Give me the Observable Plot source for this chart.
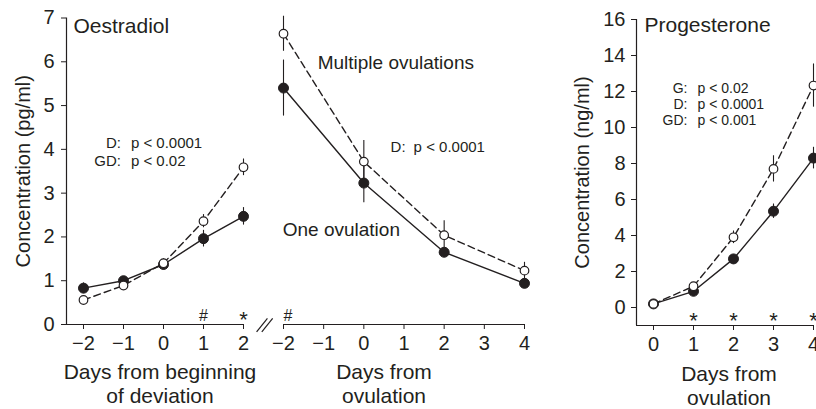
<!DOCTYPE html>
<html><head><meta charset="utf-8">
<script src="https://cdn.jsdelivr.net/npm/d3@7"></script>
<script src="https://cdn.jsdelivr.net/npm/@observablehq/plot@0.6"></script>
<style>
body{margin:0;background:#fff;}
#chart{position:relative;width:816px;height:409px;overflow:hidden;background:#fff;}
#chart svg{position:absolute;left:0;top:0;}
</style></head><body><div id="chart"></div>
<script>
// ---- Oestradiol, days from beginning of deviation ----
const daysDev = [-2, -1, 0, 1, 2];
const e2DevOne = [0.83, 1.00, 1.37, 1.96, 2.47];
const e2DevOneSE = [0.12, 0.08, 0.12, 0.19, 0.20];
const e2DevMulti = [0.56, 0.89, 1.40, 2.36, 3.59];
const e2DevMultiSE = [0.05, 0.06, 0.10, 0.15, 0.19];
// ---- Oestradiol, days from ovulation ----
const daysOvE2 = [-2, 0, 2, 4];
const e2OvOne = [5.40, 3.23, 1.65, 0.94];
const e2OvOneSE = [0.64, 0.45, 0.08, 0.12];
const e2OvMulti = [6.64, 3.72, 2.04, 1.23];
const e2OvMultiSE = [0.40, 0.48, 0.33, 0.19];
// ---- Progesterone, days from ovulation ----
const daysOvP4 = [0, 1, 2, 3, 4];
const p4One = [0.20, 0.90, 2.70, 5.35, 8.30];
const p4OneSE = [0.10, 0.10, 0.15, 0.40, 0.60];
const p4Multi = [0.20, 1.18, 3.90, 7.70, 12.33];
const p4MultiSE = [0.10, 0.15, 0.35, 0.73, 1.20];
// ---- ticks ----
const e2Ticks = [0, 1, 2, 3, 4, 5, 6, 7];
const p4Ticks = [0, 2, 4, 6, 8, 10, 12, 14, 16];
const devTicks = [-2, -1, 0, 1, 2];
const ovE2Ticks = [-2, -1, 0, 1, 2, 3, 4];
const ovP4Ticks = [0, 1, 2, 3, 4];
// ---- labels ----
const yLabelE2 = "Concentration (pg/ml)";
const yLabelP4 = "Concentration (ng/ml)";
const xLabelDev = "Days from beginning\nof deviation";
const xLabelOv = "Days from\novulation";
const titleE2 = [{x: -2.25, y: 6.80, text: "Oestradiol"}];
const titleP4 = [{x: -0.225, y: 15.67, text: "Progesterone"}];
const seriesLabels = [
  {x: -1.15, y: 5.97, text: "Multiple ovulations"},
  {x: -2.02, y: 2.17, text: "One ovulation"}
];
const statsDev = [{x: -0.94, y: 4.13, g: "D:", p: "p < 0.0001"}, {x: -0.94, y: 3.74, g: "GD:", p: "p < 0.02"}];
const statsOv = [{x: 1.14, y: 4.05, g: "D:", p: "p < 0.0001"}];
const statsP4 = [
  {x: 0.975, y: 12.15, g: "G:", p: "p < 0.02"},
  {x: 0.975, y: 11.26, g: "D:", p: "p < 0.0001"},
  {x: 0.975, y: 10.37, g: "GD:", p: "p < 0.001"}
];
const sigDev = [{x: 1, y: 0.2, s: "#"}, {x: 2, y: 0.2, s: "*"}];
const sigOv = [{x: -2, y: 0.2, s: "#"}];
const sigP4 = [{x: 1, y: -0.5, s: "*"}, {x: 2, y: -0.5, s: "*"}, {x: 3, y: -0.5, s: "*"}, {x: 4, y: -0.5, s: "*"}];
const axisBreak = [
  {x1: -2.67, y1: -0.17, x2: -2.40, y2: 0.14},
  {x1: -2.54, y1: -0.17, x2: -2.27, y2: 0.14}
];

const ink = "#231f20";
const font = "'Liberation Sans', Arial, Helvetica, sans-serif";
const fmt = d3.format("d");
const rows = (xs, ys, ses) => xs.map((x, i) => ({x, y: ys[i], se: ses[i]}));

function seriesMarks(one, multi) {
  return [
    Plot.ruleX(one, {x: "x", y1: d => d.y - d.se, y2: d => d.y + d.se, stroke: ink, strokeWidth: 1.1}),
    Plot.ruleX(multi, {x: "x", y1: d => d.y - d.se, y2: d => d.y + d.se, stroke: ink, strokeWidth: 1.1}),
    Plot.line(one, {x: "x", y: "y", stroke: ink, strokeWidth: 1.4}),
    Plot.line(multi, {x: "x", y: "y", stroke: ink, strokeWidth: 1.4, strokeDasharray: "7,4"}),
    Plot.dot(one, {x: "x", y: "y", r: 5, fill: ink, stroke: ink, strokeWidth: 1}),
    Plot.dot(multi, {x: "x", y: "y", r: 4.3, fill: "white", stroke: ink, strokeWidth: 1.2})
  ];
}
function statMarks(stats, gap, size) {
  return [
    Plot.text(stats, {x: "x", y: "y", text: "g", textAnchor: "end", dx: -gap, fontSize: size, fill: ink}),
    Plot.text(stats, {x: "x", y: "y", text: "p", textAnchor: "start", dx: gap, fontSize: size, fill: ink})
  ];
}
function base(opts) {
  return Object.assign({
    width: 816, height: 409,
    style: {fontFamily: font, fontSize: "20px", color: ink, background: "none", overflow: "visible"}
  }, opts);
}

const chart = document.getElementById("chart");

// Left panel
chart.append(Plot.plot(base({
  marginLeft: 66, marginRight: 573, marginTop: 17.5, marginBottom: 85,
  x: {domain: [-2.425, 2], label: null},
  y: {domain: [0, 7], label: null},
  marks: [
    Plot.ruleX([-2.425], {stroke: ink, strokeWidth: 1.2}),
    Plot.ruleY([0], {stroke: ink, strokeWidth: 1.2}),
    Plot.axisY({ticks: e2Ticks, tickFormat: fmt, tickSize: 5, tickPadding: 7, fontSize: 20, label: null}),
    Plot.axisX({ticks: devTicks, tickFormat: fmt, tickSize: 5, tickPadding: 6, fontSize: 20, label: null}),
    Plot.text([yLabelE2], {frameAnchor: "left", textAnchor: "middle", dx: -43, rotate: -90, fontSize: 20, fill: ink}),
    Plot.text([xLabelDev], {frameAnchor: "bottom", textAnchor: "middle", dx: 5, dy: 38, lineAnchor: "top", lineHeight: 1.13, fontSize: 21, fill: ink}),
    Plot.text(titleE2, {x: "x", y: "y", text: "text", textAnchor: "start", fontSize: 21, fill: ink}),
    ...statMarks(statsDev, 5, 15),
    Plot.text(sigDev.filter(d => d.s === "#"), {x: "x", y: "y", text: "s", fontSize: 16, fill: ink}),
    Plot.text(sigDev.filter(d => d.s === "*"), {x: "x", y: "y", text: "s", fontSize: 22, dy: 4, fill: ink}),
    ...seriesMarks(rows(daysDev, e2DevOne, e2DevOneSE), rows(daysDev, e2DevMulti, e2DevMultiSE))
  ]
})));

// Middle panel
chart.append(Plot.plot(base({
  marginLeft: 283, marginRight: 292, marginTop: 17.5, marginBottom: 85,
  x: {domain: [-2, 4], label: null},
  y: {domain: [0, 7], label: null, axis: null},
  marks: [
    Plot.ruleY([0], {stroke: ink, strokeWidth: 1.2}),
    Plot.axisX({ticks: ovE2Ticks, tickFormat: fmt, tickSize: 5, tickPadding: 6, fontSize: 20, label: null}),
    Plot.text([xLabelOv], {frameAnchor: "bottom", textAnchor: "middle", dx: -20, dy: 38, lineAnchor: "top", lineHeight: 1.13, fontSize: 21, fill: ink}),
    Plot.link(axisBreak, {x1: "x1", y1: "y1", x2: "x2", y2: "y2", stroke: ink, strokeWidth: 1.2}),
    Plot.text(seriesLabels, {x: "x", y: "y", text: "text", textAnchor: "start", fontSize: 19, fill: ink}),
    ...statMarks(statsOv, 4, 15),
    Plot.text(sigOv, {x: "x", y: "y", text: "s", textAnchor: "start", dx: 0, fontSize: 16, fill: ink}),
    ...seriesMarks(rows(daysOvE2, e2OvOne, e2OvOneSE), rows(daysOvE2, e2OvMulti, e2OvMultiSE))
  ]
})));

// Right panel
chart.append(Plot.plot(base({
  marginLeft: 636, marginRight: 3, marginTop: 19, marginBottom: 84,
  x: {domain: [-0.425, 4], label: null},
  y: {domain: [-1, 16], label: null},
  marks: [
    Plot.ruleX([-0.425], {stroke: ink, strokeWidth: 1.2}),
    Plot.ruleY([-1], {stroke: ink, strokeWidth: 1.2}),
    Plot.axisY({ticks: p4Ticks, tickFormat: fmt, tickSize: 5, tickPadding: 6, fontSize: 20, label: null}),
    Plot.axisX({ticks: ovP4Ticks, tickFormat: fmt, tickSize: 5, tickPadding: 6, fontSize: 20, label: null}),
    Plot.text([yLabelP4], {frameAnchor: "left", textAnchor: "middle", dx: -54, rotate: -90, fontSize: 20, fill: ink}),
    Plot.text([xLabelOv], {frameAnchor: "bottom", textAnchor: "middle", dx: 4, dy: 39, lineAnchor: "top", lineHeight: 1.13, fontSize: 21, fill: ink}),
    Plot.text(titleP4, {x: "x", y: "y", text: "text", textAnchor: "start", fontSize: 21, fill: ink}),
    ...statMarks(statsP4, 5, 14),
    Plot.text(sigP4, {x: "x", y: "y", text: "s", fontSize: 22, dy: 4, fill: ink}),
    ...seriesMarks(rows(daysOvP4, p4One, p4OneSE), rows(daysOvP4, p4Multi, p4MultiSE))
  ]
})));
</script></body></html>
